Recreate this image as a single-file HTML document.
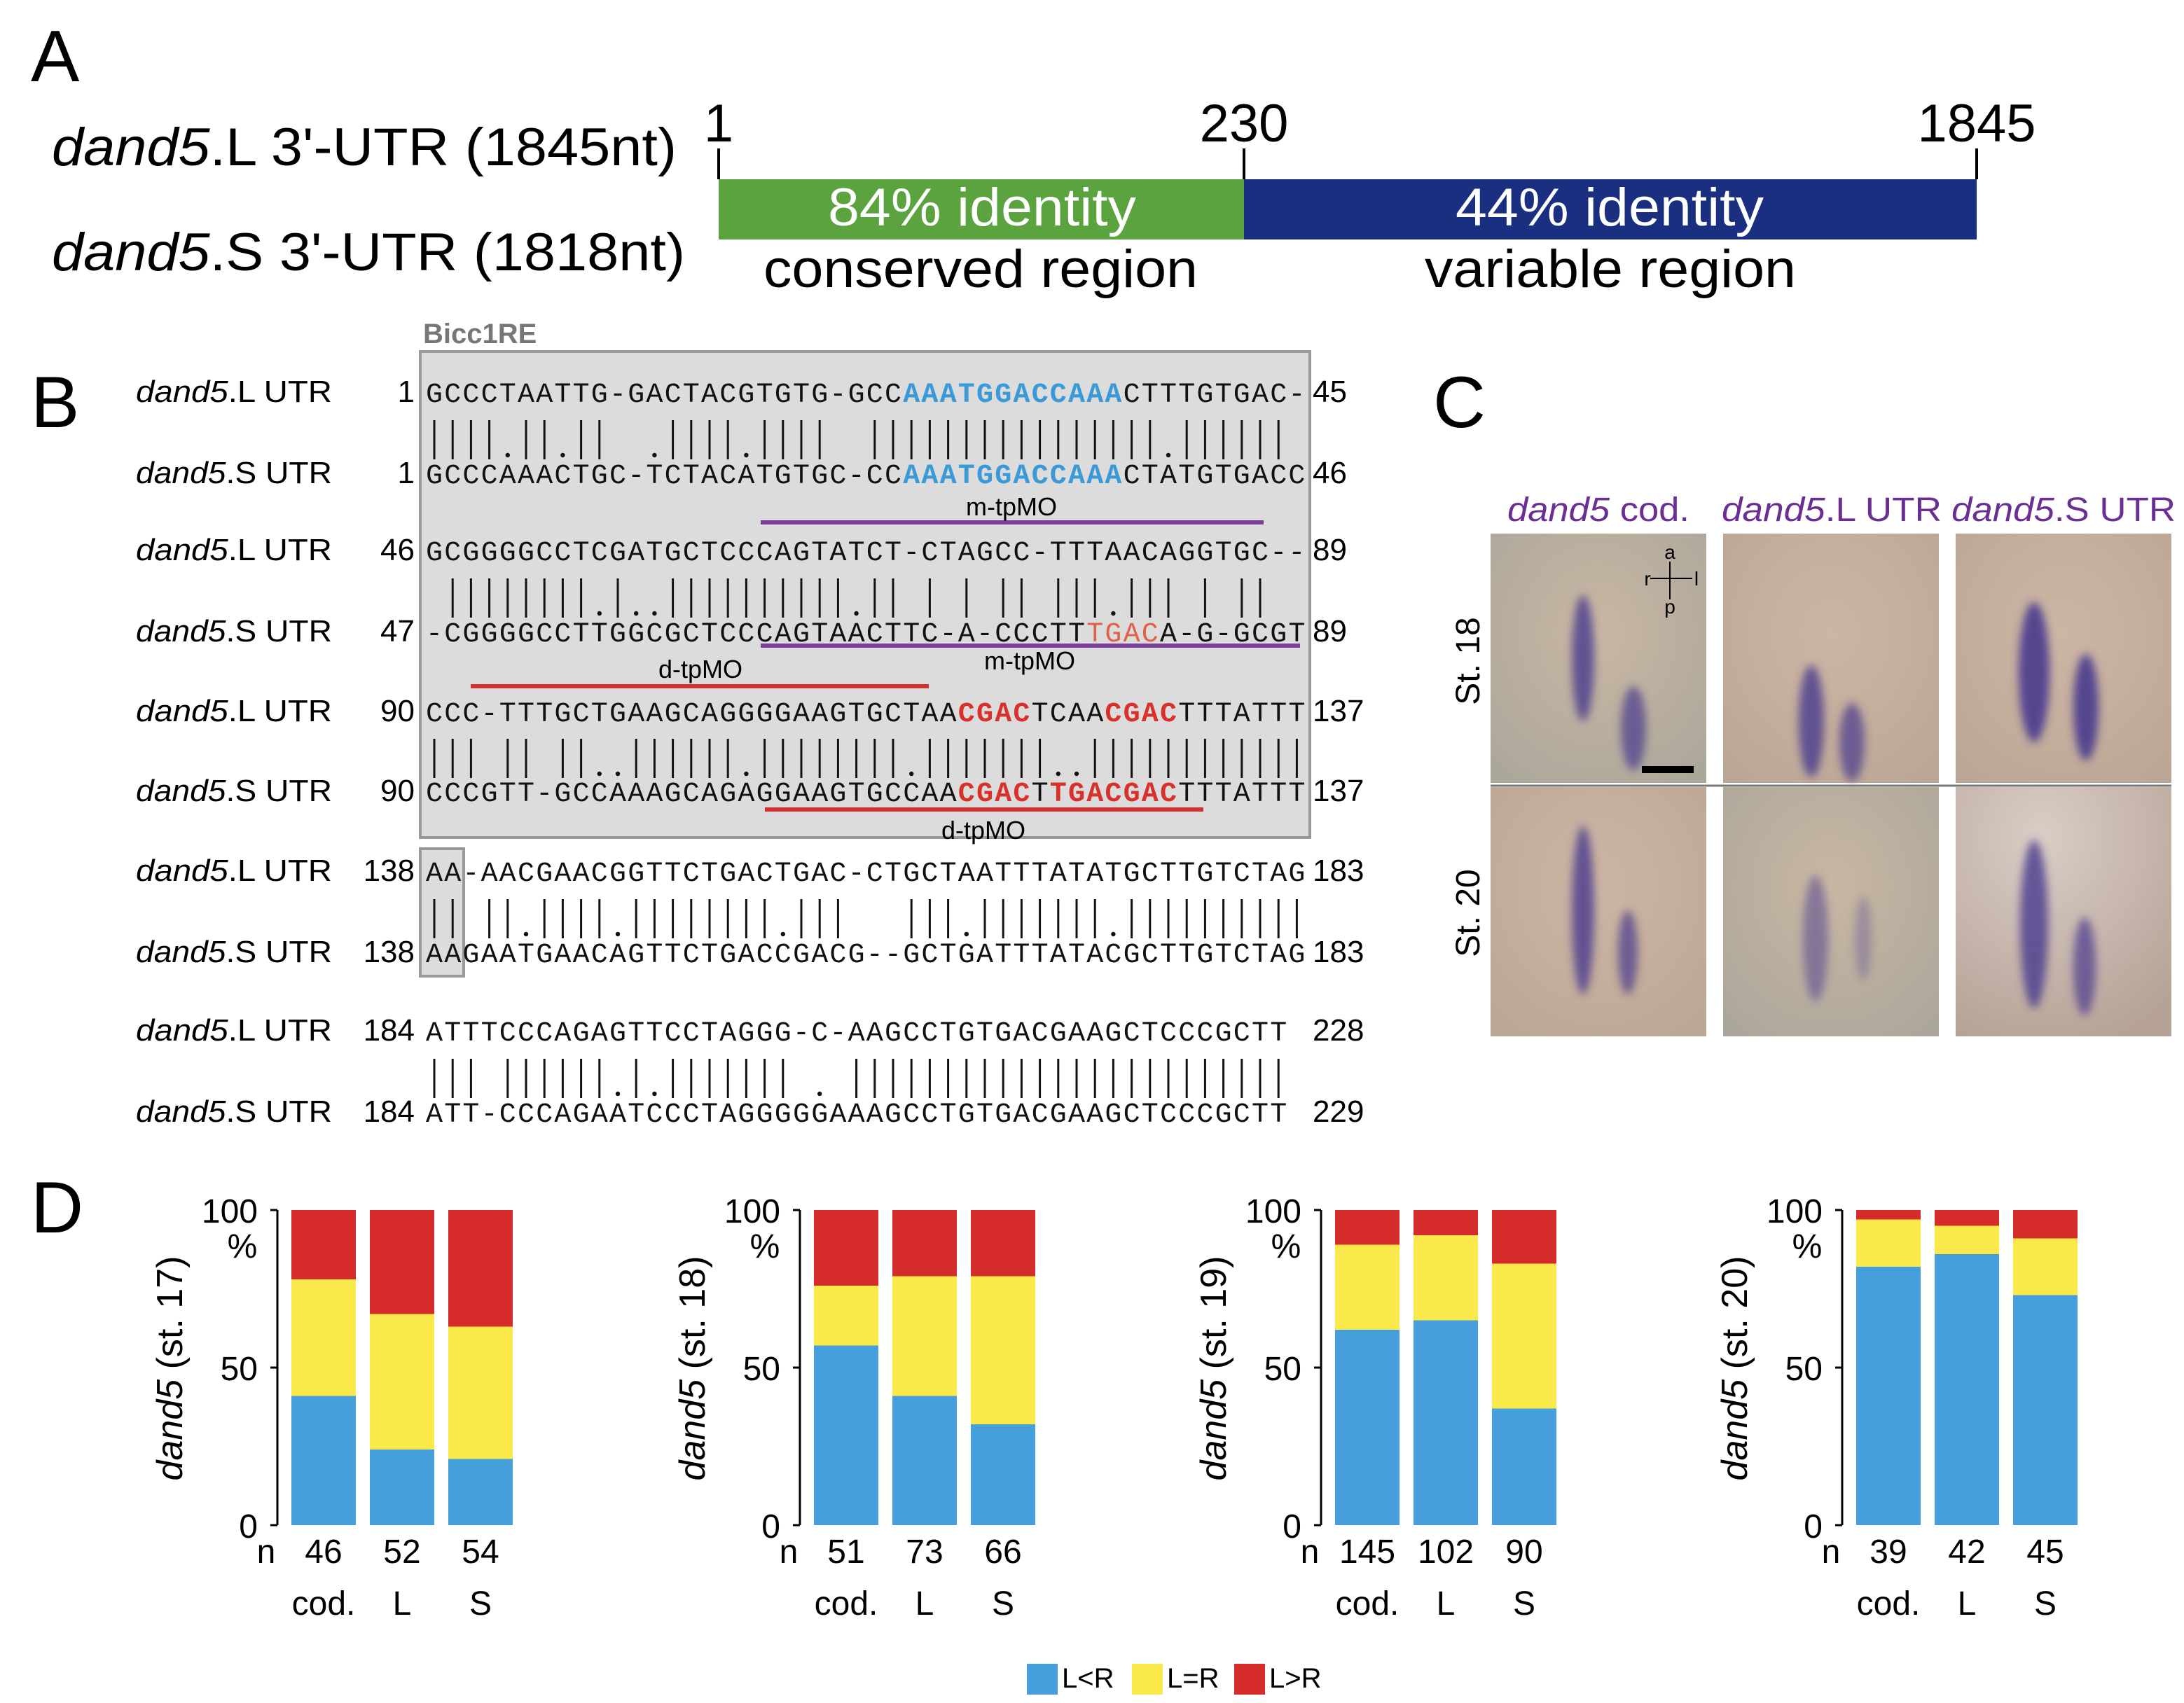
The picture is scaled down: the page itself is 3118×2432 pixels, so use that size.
<!DOCTYPE html>
<html><head><meta charset="utf-8"><style>
html,body{margin:0;padding:0;background:#fff}
svg{display:block}
text{font-family:"Liberation Sans",sans-serif}
.seq{font-family:"Liberation Mono",monospace;font-size:20px}
</style></head><body>
<svg id="fig" width="3118" height="2432" viewBox="0 0 1559 1216" xmlns="http://www.w3.org/2000/svg">
<defs>
<filter id="blur" x="-50%" y="-50%" width="200%" height="200%"><feGaussianBlur stdDeviation="3"/></filter>
<radialGradient id="bg1" cx="0.5" cy="0.4" r="0.8"><stop offset="0" stop-color="#c9b7a3"/><stop offset="1" stop-color="#a9a59a"/></radialGradient>
<radialGradient id="bg2" cx="0.5" cy="0.4" r="0.8"><stop offset="0" stop-color="#cdb5a4"/><stop offset="1" stop-color="#b9a594"/></radialGradient>
<radialGradient id="bg3" cx="0.4" cy="0.2" r="0.9"><stop offset="0" stop-color="#d9cdc6"/><stop offset="1" stop-color="#b5a195"/></radialGradient>
</defs>

<g>
<text x="22" y="58" font-size="52">A</text>
<text x="37" y="118" font-size="38" textLength="446" lengthAdjust="spacingAndGlyphs"><tspan font-style="italic">dand5</tspan>.L 3'-UTR (1845nt)</text>
<text x="37" y="193" font-size="38" textLength="452" lengthAdjust="spacingAndGlyphs"><tspan font-style="italic">dand5</tspan>.S 3'-UTR (1818nt)</text>
<rect x="513" y="128" width="375" height="43" fill="#5aa33e"/>
<rect x="888" y="128" width="523" height="43" fill="#1a2f80"/>
<g stroke="#000" stroke-width="2"><line x1="513" y1="106" x2="513" y2="128"/><line x1="888" y1="106" x2="888" y2="128"/><line x1="1411" y1="106" x2="1411" y2="128"/></g>
<text x="513" y="101" font-size="38" text-anchor="middle">1</text>
<text x="888" y="101" font-size="38" text-anchor="middle">230</text>
<text x="1411" y="101" font-size="38" text-anchor="middle">1845</text>
<text x="591" y="161" font-size="38" fill="#fff" textLength="220" lengthAdjust="spacingAndGlyphs">84% identity</text>
<text x="1039" y="161" font-size="38" fill="#fff" textLength="220" lengthAdjust="spacingAndGlyphs">44% identity</text>
<text x="545" y="205" font-size="38" textLength="310" lengthAdjust="spacingAndGlyphs">conserved region</text>
<text x="1017" y="205" font-size="38" textLength="265" lengthAdjust="spacingAndGlyphs">variable region</text>
</g>

<g id="panelB">
<text x="22" y="305" font-size="52">B</text>
<rect x="300" y="251" width="635" height="347" fill="#dcdcdc" stroke="#999" stroke-width="2"/>
<rect x="300" y="606" width="31" height="91" fill="#dcdcdc" stroke="#999" stroke-width="2"/>
<text x="302" y="245" font-size="20" font-weight="bold" fill="#777">Bicc1RE</text>
<line x1="543" y1="373" x2="902" y2="373" stroke="#7a3d9a" stroke-width="3"/>
<text x="722" y="368" font-size="18" text-anchor="middle">m-tpMO</text>
<line x1="543" y1="461" x2="928" y2="461" stroke="#7a3d9a" stroke-width="3"/>
<text x="735" y="478" font-size="18" text-anchor="middle">m-tpMO</text>
<text x="500" y="484" font-size="18" text-anchor="middle">d-tpMO</text>
<line x1="336" y1="490" x2="663" y2="490" stroke="#d32f2f" stroke-width="3"/>
<line x1="546" y1="578" x2="859" y2="578" stroke="#d32f2f" stroke-width="3"/>
<text x="702" y="599" font-size="18" text-anchor="middle">d-tpMO</text>
</g>

<g id="panelC">
<text x="1023" y="305" font-size="52">C</text>
<text x="1076" y="372" font-size="24" fill="#6b2f94" textLength="130" lengthAdjust="spacingAndGlyphs"><tspan font-style="italic">dand5</tspan> cod.</text>
<text x="1229" y="372" font-size="24" fill="#6b2f94" textLength="157" lengthAdjust="spacingAndGlyphs"><tspan font-style="italic">dand5</tspan>.L UTR</text>
<text x="1393" y="372" font-size="24" fill="#6b2f94" textLength="160" lengthAdjust="spacingAndGlyphs"><tspan font-style="italic">dand5</tspan>.S UTR</text>
<text transform="translate(1056,472) rotate(-90)" font-size="24" text-anchor="middle">St. 18</text>
<text transform="translate(1056,652) rotate(-90)" font-size="24" text-anchor="middle">St. 20</text>
</g>

<g id="panelD">
<text x="22" y="880" font-size="52">D</text>
<rect x="733" y="1188" width="22" height="22" fill="#449fdb"/>
<text x="758" y="1205" font-size="20">L&lt;R</text>
<rect x="808" y="1188" width="22" height="22" fill="#f9e94a"/>
<text x="833" y="1205" font-size="20">L=R</text>
<rect x="881" y="1188" width="22" height="22" fill="#d52b2b"/>
<text x="906" y="1205" font-size="20">L&gt;R</text>
</g>
</svg>
<script>
const stages = ["17", "18", "19", "20"];
const categories = ["cod.", "L", "S"];
const blueVals = [[41, 24, 21], [57, 41, 32], [62, 65, 37], [82, 86, 73]];
const yellowVals = [[37, 43, 42], [19, 38, 47], [27, 27, 46], [15, 9, 18]];
const nVals = [["46", "52", "54"], ["51", "73", "66"], ["145", "102", "90"], ["39", "42", "45"]];
const yTicks = [0, 50, 100];

const seqRows = [
  {l:"GCCCTAATTG-GACTACGTGTG-GCCAAATGGACCAAACTTTGTGAC-", s:"GCCCAAACTGC-TCTACATGTGC-CCAAATGGACCAAACTATGTGACC", ls:"1", le:"45", ss:"1", se:"46", y:287, ys:345},
  {l:"GCGGGGCCTCGATGCTCCCAGTATCT-CTAGCC-TTTAACAGGTGC--", s:"-CGGGGCCTTGGCGCTCCCAGTAACTTC-A-CCCTTTGACA-G-GCGT", ls:"46", le:"89", ss:"47", se:"89", y:400, ys:458},
  {l:"CCC-TTTGCTGAAGCAGGGGAAGTGCTAACGACTCAACGACTTTATTT", s:"CCCGTT-GCCAAAGCAGAGGAAGTGCCAACGACTTGACGACTTTATTT", ls:"90", le:"137", ss:"90", se:"137", y:515, ys:572},
  {l:"AA-AACGAACGGTTCTGACTGAC-CTGCTAATTTATATGCTTGTCTAG", s:"AAGAATGAACAGTTCTGACCGACG--GCTGATTTATACGCTTGTCTAG", ls:"138", le:"183", ss:"138", se:"183", y:629, ys:687},
  {l:"ATTTCCCAGAGTTCCTAGGG-C-AAGCCTGTGACGAAGCTCCCGCTT", s:"ATT-CCCAGAATCCCTAGGGGGAAAGCCTGTGACGAAGCTCCCGCTT", ls:"184", le:"228", ss:"184", se:"229", y:743, ys:801}
];
const colorMap = [
  {l:{blue:[26,27,28,29,30,31,32,33,34,35,36,37]}, s:{blue:[26,27,28,29,30,31,32,33,34,35,36,37]}},
  {l:{}, s:{red:[36,37,38,39]}},
  {l:{red:[29,30,31,32,37,38,39,40]}, s:{red:[29,30,31,32,34,35,36,37,38,39,40]}},
  {l:{}, s:{}},{l:{}, s:{}}
];
const NS = "http://www.w3.org/2000/svg";
function mk(tag, attrs, parent){const e=document.createElementNS(NS,tag);for(const k in attrs)e.setAttribute(k,attrs[k]);parent.appendChild(e);return e;}

const pB = document.getElementById('panelB');
const x0 = 304, cw = 13.1;
seqRows.forEach((r, i) => {
  [["l", r.y, "L", r.ls, r.le], ["s", r.ys, "S", r.ss, r.se]].forEach(([k, y, nm, st, en]) => {
    const lab = mk('text', {x:97, y:y, 'font-size':22, textLength:140, lengthAdjust:'spacingAndGlyphs'}, pB);
    
    
    lab.innerHTML = '<tspan font-style="italic">dand5</tspan>.' + nm + ' UTR';
    const s1 = mk('text', {x:296, y:y, 'font-size':22, 'text-anchor':'end'}, pB);
    
    
    s1.textContent = st;
    const e1 = mk('text', {x:937, y:y, 'font-size':22}, pB);
    
    
    e1.textContent = en;
    const seq = r[k];
    const cm = colorMap[i][k];
    const t = mk('text', {y:y, class:'seq'}, pB);
    
    
    for (let j = 0; j < seq.length; j++) {
      const ts = mk('tspan', {x: x0 + j*cw}, t);
      let fill = '#111';
      if (cm.blue && cm.blue.includes(j)) fill = '#3a9ad8';
      if (cm.red && cm.red.includes(j)) fill = (i===1) ? '#e0604a' : '#d8312b';
      ts.setAttribute('fill', fill);
      if (fill !== '#111' && i !== 1) ts.setAttribute('font-weight', 'bold');
      ts.textContent = seq[j];
    }
  });
  const g = mk('g', {}, pB);
  
  
  const my = (r.y + r.ys) / 2;
  for (let j = 0; j < r.l.length; j++) {
    const a = r.l[j], b = r.s[j];
    const cx = x0 + j*cw + 6;
    if (a === '-' || b === '-' || b === undefined) continue;
    if (a === b) mk('line', {x1:cx, y1:my-16, x2:cx, y2:my+12, stroke:'#111', 'stroke-width':1.5}, g);
    else mk('circle', {cx:cx, cy:my+9, r:1.6, fill:'#111'}, g);
  }
});

const pC = document.getElementById('panelC');
const imgX = [1064, 1230, 1396], imgY = [381, 562];
const bgs = [['bg1','bg2','bg2'],['bg2','bg1','bg3']];
const streaks = [
  [[[1130,470,8,45,0.8],[1166,520,9,30,0.7]],[[1293,515,9,40,0.8],[1322,530,9,28,0.7]],[[1452,480,11,50,0.9],[1489,505,9,38,0.9]]],
  [[[1130,650,8,60,0.8],[1162,680,7,30,0.7]],[[1296,670,9,45,0.5],[1330,670,6,30,0.3]],[[1452,660,10,60,0.8],[1488,690,8,35,0.7]]]
];
imgY.forEach((y, r) => imgX.forEach((x, c) => {
  const g = mk('g', {}, pC);
  
  
  mk('rect', {x:x, y:y, width:154, height:178, fill:'url(#' + bgs[r][c] + ')'}, g);
  streaks[r][c].forEach(s => mk('ellipse', {cx:s[0], cy:s[1], rx:s[2], ry:s[3], fill:'#4a3a8e', opacity:s[4], filter:'url(#blur)'}, g));
}));
mk('line', {x1:1064, y1:561, x2:1550, y2:561, stroke:'#777', 'stroke-width':1.5}, pC);
const sb = mk('rect', {x:1172, y:547, width:37, height:5, fill:'#000'}, pC);


const ax = mk('g', {stroke:'#000', 'stroke-width':1}, pC);


mk('line', {x1:1178, y1:413, x2:1208, y2:413}, ax);
mk('line', {x1:1192, y1:401, x2:1192, y2:428}, ax);
[['a',1192,399],['p',1192,438],['r',1176,418],['l',1211,418]].forEach(([t,x,y]) => {
  const e = mk('text', {x:x, y:y, 'font-size':14, 'text-anchor':'middle', stroke:'none'}, ax); e.textContent = t;
});

const pD = document.getElementById('panelD');
const chartX = [198, 571, 943, 1315];
const barOff = [10, 66, 122], barW = 46;
const yBase = 1089, yTop = 864;
const yScale = v => yBase - (v / 100) * (yBase - yTop);
stages.forEach((st, ci) => {
  const X = chartX[ci];
  const g = mk('g', {}, pD);
  
  
  categories.forEach((cat, bi) => {
    const bx = X + barOff[bi];
    const b = blueVals[ci][bi], yv = yellowVals[ci][bi];
    const rb = mk('rect', {x:bx, y:yScale(b), width:barW, height:yScale(0)-yScale(b), fill:'#449fdb'}, g);
    
    
    const ry = mk('rect', {x:bx, y:yScale(b+yv), width:barW, height:yScale(b)-yScale(b+yv), fill:'#f9e94a'}, g);
    
    
    const rr = mk('rect', {x:bx, y:yScale(100), width:barW, height:yScale(b+yv)-yScale(100), fill:'#d52b2b'}, g);
    
    
    const nt = mk('text', {x:bx+barW/2, y:1116, 'font-size':24, 'text-anchor':'middle'}, g);
    
    
    nt.textContent = nVals[ci][bi];
    const ct = mk('text', {x:bx+barW/2, y:1153, 'font-size':24, 'text-anchor':'middle'}, g);
    
    
    ct.textContent = cat;
  });
  const axl = mk('line', {x1:X, y1:yTop, x2:X, y2:yBase, stroke:'#000', 'stroke-width':1.5}, g);
  
  
  yTicks.forEach(t => {
    mk('line', {x1:X-5, y1:yScale(t), x2:X, y2:yScale(t), stroke:'#000', 'stroke-width':1.5}, g);
    const tl = mk('text', {x:X-14, y:yScale(t)+9, 'font-size':24, 'text-anchor':'end'}, g);
    
    
    tl.textContent = t;
  });
  const pc = mk('text', {x:X-25, y:898, 'font-size':24, 'text-anchor':'middle'}, g);
  
  
  pc.textContent = '%';
  const nl = mk('text', {x:X-8, y:1116, 'font-size':24, 'text-anchor':'middle'}, g);
  
  
  nl.textContent = 'n';
  const yt = mk('text', {transform:'translate(' + (X-68) + ',977) rotate(-90)', 'font-size':26, 'text-anchor':'middle'}, g);
  
  
  yt.innerHTML = '<tspan font-style="italic">dand5</tspan> (st. ' + st + ')';
});
</script>
</body></html>
